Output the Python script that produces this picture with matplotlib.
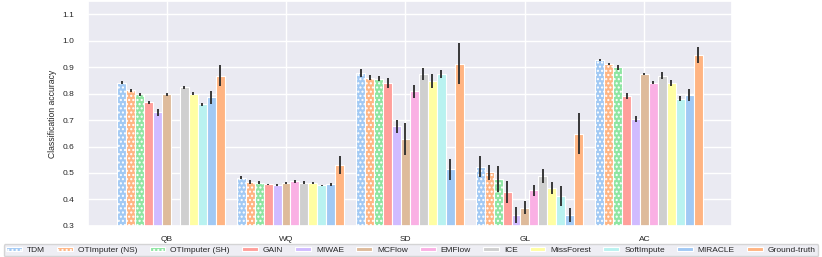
import numpy as np
import matplotlib
matplotlib.use("Agg")
import matplotlib.pyplot as plt
import seaborn as sns

datasets = ["QB", "WQ", "SD", "GL", "AC"]
methods = ["TDM", "OTImputer (NS)", "OTImputer (SH)", "GAIN", "MIWAE", "MCFlow",
           "EMFlow", "ICE", "MissForest", "SoftImpute", "MIRACLE", "Ground-truth"]

tdm      = [0.841, 0.482, 0.879, 0.523, 0.927]
ot_ns    = [0.813, 0.465, 0.860, 0.502, 0.912]
ot_sh    = [0.797, 0.463, 0.856, 0.478, 0.900]
gain     = [0.767, 0.457, 0.839, 0.428, 0.791]
miwae    = [0.729, 0.453, 0.676, 0.341, 0.703]
mcflow   = [0.797, 0.462, 0.628, 0.369, 0.874]
emflow   = [np.nan, 0.469, 0.809, 0.434, 0.842]
ice      = [0.824, 0.464, 0.874, 0.489, 0.868]
missfor  = [0.799, 0.462, 0.848, 0.444, 0.841]
softimp  = [0.760, 0.453, 0.874, 0.413, 0.781]
miracle  = [0.786, 0.458, 0.514, 0.341, 0.795]
truth    = [0.868, 0.530, 0.913, 0.648, 0.947]

tdm_err     = [0.006, 0.005, 0.015, 0.040, 0.004]
ot_ns_err   = [0.006, 0.007, 0.010, 0.029, 0.005]
ot_sh_err   = [0.006, 0.006, 0.010, 0.048, 0.009]
gain_err    = [0.007, 0.003, 0.019, 0.040, 0.011]
miwae_err   = [0.012, 0.004, 0.023, 0.030, 0.012]
mcflow_err  = [0.005, 0.005, 0.060, 0.025, 0.003]
emflow_err  = [np.nan, 0.005, 0.024, 0.020, 0.005]
ice_err     = [0.005, 0.005, 0.021, 0.027, 0.012]
missfor_err = [0.006, 0.004, 0.028, 0.022, 0.012]
softimp_err = [0.006, 0.003, 0.014, 0.036, 0.009]
miracle_err = [0.024, 0.006, 0.040, 0.027, 0.021]
truth_err   = [0.041, 0.033, 0.078, 0.078, 0.030]

means = [tdm, ot_ns, ot_sh, gain, miwae, mcflow, emflow, ice, missfor, softimp, miracle, truth]
errs = [tdm_err, ot_ns_err, ot_sh_err, gain_err, miwae_err, mcflow_err, emflow_err,
        ice_err, missfor_err, softimp_err, miracle_err, truth_err]

sns.set_theme(style="darkgrid")
plt.rcParams['font.family'] = ['Liberation Sans', 'DejaVu Sans']
plt.rcParams['hatch.color'] = 'white'
plt.rcParams['hatch.linewidth'] = 1.0

palette = sns.color_palette("pastel", 10)
colors = [palette[i % 10] for i in range(len(methods))]
hatches = ["...."] * 3 + [None] * 9

fig = plt.figure(figsize=(8.22, 2.57), dpi=100)
ax = fig.add_axes([0.107, 0.121, 0.7835, 0.875])

x = np.arange(len(datasets))
w = 0.075
for i, m in enumerate(methods):
    pos = x + (i - 5) * w
    ax.bar(pos, means[i], width=w, color=colors[i], edgecolor='white',
           linewidth=0.8, hatch=hatches[i], label=m, zorder=2)
    ax.errorbar(pos, means[i], yerr=errs[i], fmt='none', ecolor='#2a2a2a',
                elinewidth=1.3, capsize=0, zorder=3)

ax.set_ylim(0.3, 1.15)
ax.set_yticks(np.arange(0.3, 1.11, 0.1))
ax.set_yticklabels([f"{v:.1f}" for v in np.arange(0.3, 1.11, 0.1)])
ax.set_xticks(x)
ax.set_xticklabels(datasets)
ax.tick_params(axis='both', labelsize=6, pad=1.5)
ax.tick_params(axis='y', pad=4)
ax.set_ylabel("Classification accuracy", fontsize=6.2, labelpad=4)

handles, labels = ax.get_legend_handles_labels()
fig.legend(handles, labels, loc='lower center', bbox_to_anchor=(0.5, 0.002),
           ncol=12, fontsize=6, frameon=True, handlelength=1.9,
           handleheight=0.5, borderaxespad=0.0, columnspacing=1.45,
           handletextpad=0.6, borderpad=0.3)

fig.savefig("out.png", dpi=100)
